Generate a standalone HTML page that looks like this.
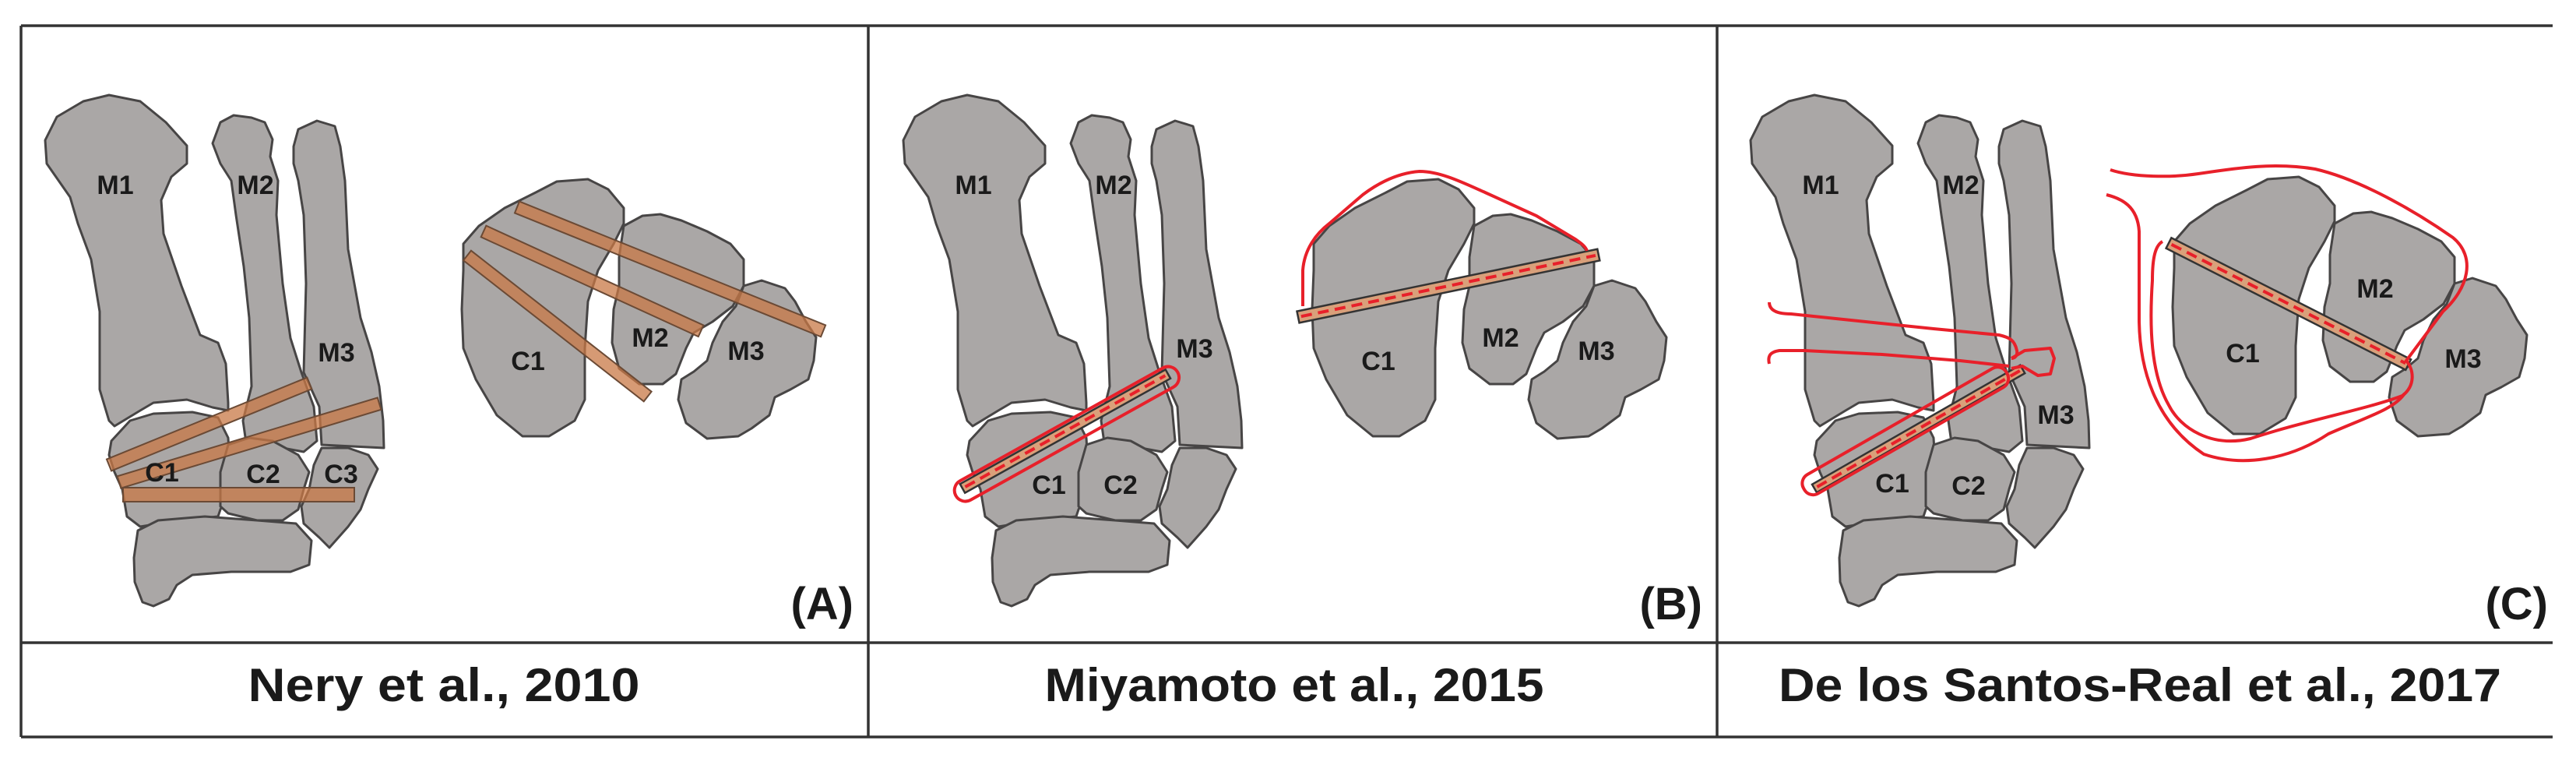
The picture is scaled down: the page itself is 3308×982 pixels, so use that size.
<!DOCTYPE html>
<html><head><meta charset="utf-8"><style>
html,body{margin:0;padding:0;background:#fff;}
svg{display:block;}
.lb{font-family:"Liberation Sans",sans-serif;font-weight:bold;fill:#1a1a1a;}
</style></head><body>
<svg width="3308" height="982" viewBox="0 0 3308 982" xmlns="http://www.w3.org/2000/svg">
<defs>
<g id="foot" fill="#aaa7a6" stroke="#474545" stroke-width="3" stroke-linejoin="round">
<polygon points="58,180 73,150 107,130 140,122 180,130 213,157 240,187 240,210 220,227 207,257 210,300 233,367 257,430 280,440 290,467 293,517 293,527 273,523 240,513 197,517 180,527 147,547 140,540 128,500 128,400 117,333 100,287 90,253 60,210"/>
<polygon points="273,184 283,157 300,148 323,151 340,157 350,179 347,201 357,232 355,276 363,364 373,434 387,478 403,522 407,566 390,580 363,575 317,575 312,540 323,496 320,408 313,342 303,276 297,232 283,210"/>
<polygon points="377,188 383,166 407,155 430,162 437,188 443,232 447,320 463,408 477,452 487,496 492,540 493,575 413,571 410,522 390,478 393,364 390,276 383,232 377,210"/>
<polygon points="143,566 167,540 197,531 247,529 280,536 293,562 297,628 283,654 280,663 230,668 180,676 163,663 157,628 147,606 140,584"/>
<polygon points="293,571 320,562 350,566 383,584 397,606 390,628 383,654 363,668 330,668 293,659 283,650 283,606"/>
<polygon points="413,575 447,575 473,584 485,602 473,628 463,654 447,676 423,703 410,690 390,672 387,650 397,628 403,597"/>
<polygon points="177,681 203,668 263,663 330,668 380,672 400,694 397,725 373,734 297,734 247,738 227,751 217,769 197,778 183,773 173,747 172,716"/>
</g>
<g id="trans" fill="#aaa7a6" stroke="#474545" stroke-width="3" stroke-linejoin="round">
<polygon points="595,313 615,290 648,267 688,247 715,233 755,230 781,243 801,267 801,287 788,313 768,347 755,387 751,447 751,513 738,540 705,560 671,560 638,533 611,487 595,447 593,397 595,347"/>
<polygon points="801,290 825,277 848,275 875,283 908,297 938,313 955,333 955,367 941,393 915,413 891,427 881,447 868,480 851,493 821,493 795,473 786,440 788,397 795,367 795,330"/>
<polygon points="955,367 978,360 1008,370 1021,387 1035,413 1048,433 1045,463 1038,487 1015,500 995,510 988,533 965,550 948,560 908,563 881,543 871,513 875,487 891,477 908,463 915,440 928,413 945,393"/>
</g>
</defs>

<g stroke="#333" stroke-width="3.5" fill="none">
<line x1="27" y1="33" x2="3278" y2="33"/>
<line x1="27" y1="33" x2="27" y2="946"/>
<line x1="1115" y1="33" x2="1115" y2="946"/>
<line x1="2205" y1="33" x2="2205" y2="946"/>
<line x1="27" y1="825" x2="3278" y2="825"/>
<line x1="27" y1="946" x2="3278" y2="946"/>
</g>

<!-- Panel A -->
<use href="#foot"/>
<use href="#trans"/>
<g fill="rgba(200,120,70,0.75)" stroke="#6b4a35" stroke-width="2">
<rect x="0" y="-8" width="278" height="16" transform="translate(140,597) rotate(-22.2)"/>
<rect x="0" y="-8" width="349" height="16" transform="translate(153,619) rotate(-16.8)"/>
<rect x="0" y="-9" width="297" height="18" transform="translate(158,635)"/>
<rect x="0" y="-8" width="424" height="16" transform="translate(664,266) rotate(22)"/>
<rect x="0" y="-8" width="307" height="16" transform="translate(621,297) rotate(24.6)"/>
<rect x="0" y="-8" width="294" height="16" transform="translate(600,328) rotate(38)"/>
</g>
<g class="lb" font-size="34" text-anchor="middle">
<text x="148" y="249">M1</text><text x="328" y="249">M2</text><text x="432" y="464">M3</text>
<text x="208" y="618">C1</text><text x="338" y="620">C2</text><text x="438" y="620">C3</text>
<text x="678" y="475">C1</text><text x="835" y="445">M2</text><text x="958" y="462">M3</text>
</g>
<text class="lb" x="1096" y="795" font-size="58" text-anchor="end">(A)</text>
<text class="lb" x="570" y="900" font-size="60" text-anchor="middle" textLength="503" lengthAdjust="spacingAndGlyphs">Nery et al., 2010</text>

<!-- Panel B -->
<use href="#foot" transform="translate(1102,0)"/>
<use href="#trans" transform="translate(1092,0)"/>
<g class="lb" font-size="34" text-anchor="middle">
<text x="1250" y="249">M1</text><text x="1430" y="249">M2</text><text x="1534" y="459">M3</text>
<text x="1347" y="634">C1</text><text x="1439" y="634">C2</text>
<text x="1770" y="475">C1</text><text x="1927" y="445">M2</text><text x="2050" y="462">M3</text>
</g>
<g transform="translate(1236,627) rotate(-29.1)">
<rect x="0" y="-6.5" width="302" height="13" fill="#d9a07a" stroke="#333" stroke-width="2.5"/>
<line x1="4" y1="0" x2="298" y2="0" stroke="#e8202a" stroke-width="4" stroke-dasharray="14 8"/>
<rect x="-12" y="-10" width="326" height="28" rx="14" fill="none" stroke="#e8202a" stroke-width="4"/>
</g>
<g transform="translate(1667,407) rotate(-11.7)">
<rect x="0" y="-7.5" width="394" height="15" fill="#d9a07a" stroke="#333" stroke-width="2.5"/>
<line x1="4" y1="0" x2="390" y2="0" stroke="#e8202a" stroke-width="4" stroke-dasharray="14 8"/>
</g>
<path d="M1673,393 L1673,347 C1675,320 1690,300 1707,287 L1750,250 C1770,235 1795,222 1823,220 C1850,220 1880,235 1907,247 L1973,277 L2023,307 C2030,312 2036,316 2038,322" fill="none" stroke="#e8202a" stroke-width="4"/>
<text class="lb" x="2186" y="795" font-size="58" text-anchor="end">(B)</text>
<text class="lb" x="1662" y="900" font-size="60" text-anchor="middle" textLength="641" lengthAdjust="spacingAndGlyphs">Miyamoto et al., 2015</text>

<!-- Panel C -->
<use href="#foot" transform="translate(2190,0)"/>
<use href="#trans" transform="translate(2197,-3)"/>
<g class="lb" font-size="34" text-anchor="middle">
<text x="2338" y="249">M1</text><text x="2518" y="249">M2</text><text x="2640" y="544">M3</text>
<text x="2430" y="632">C1</text><text x="2528" y="635">C2</text>
<text x="2880" y="465">C1</text><text x="3050" y="382">M2</text><text x="3163" y="472">M3</text>
</g>
<g transform="translate(2330,627) rotate(-29.8)">
<rect x="0" y="-6" width="308" height="12" fill="#d9a07a" stroke="#333" stroke-width="2.5"/>
<line x1="4" y1="0" x2="304" y2="0" stroke="#e8202a" stroke-width="4" stroke-dasharray="14 8"/>
<rect x="-12" y="-20" width="300" height="28" rx="13" fill="none" stroke="#e8202a" stroke-width="4"/>
</g>
<g fill="none" stroke="#e8202a" stroke-width="4" stroke-linejoin="round">
<path d="M2272,388 C2272,400 2285,403 2300,403 L2483,422 L2567,430 C2580,433 2587,436 2590,450 C2591,456 2588,460 2583,460"/>
<path d="M2272,467 C2270,458 2272,452 2285,450 L2317,450 L2417,455 L2517,463 L2580,470"/>
<path d="M2583,460 L2600,450 L2633,447 L2638,460 L2633,480 L2617,482 L2597,470 L2583,473"/>
</g>
<g transform="translate(2785,312) rotate(26.9)">
<rect x="0" y="-7.5" width="345" height="15" fill="#d9a07a" stroke="#333" stroke-width="2.5"/>
<line x1="4" y1="0" x2="341" y2="0" stroke="#e8202a" stroke-width="4" stroke-dasharray="14 8"/>
</g>
<g fill="none" stroke="#e8202a" stroke-width="4">
<path d="M2710,218 C2740,228 2790,228 2823,223 C2870,216 2920,208 2973,217 C3030,230 3100,270 3150,305 C3180,330 3170,370 3137,400 L3090,463 C3100,475 3102,495 3085,508 C3040,525 2960,540 2890,563 C2840,575 2800,550 2785,520 C2762,480 2760,420 2764,360 C2764,330 2768,315 2777,310"/>
<path d="M2705,250 C2725,255 2745,265 2747,297 L2747,413 C2748,470 2765,540 2830,583 C2880,600 2940,590 2990,557 C3040,535 3075,525 3088,505"/>
</g>
<text class="lb" x="3272" y="795" font-size="58" text-anchor="end">(C)</text>
<text class="lb" x="2748" y="900" font-size="60" text-anchor="middle" textLength="928" lengthAdjust="spacingAndGlyphs">De los Santos-Real et al., 2017</text>
</svg>
</body></html>
